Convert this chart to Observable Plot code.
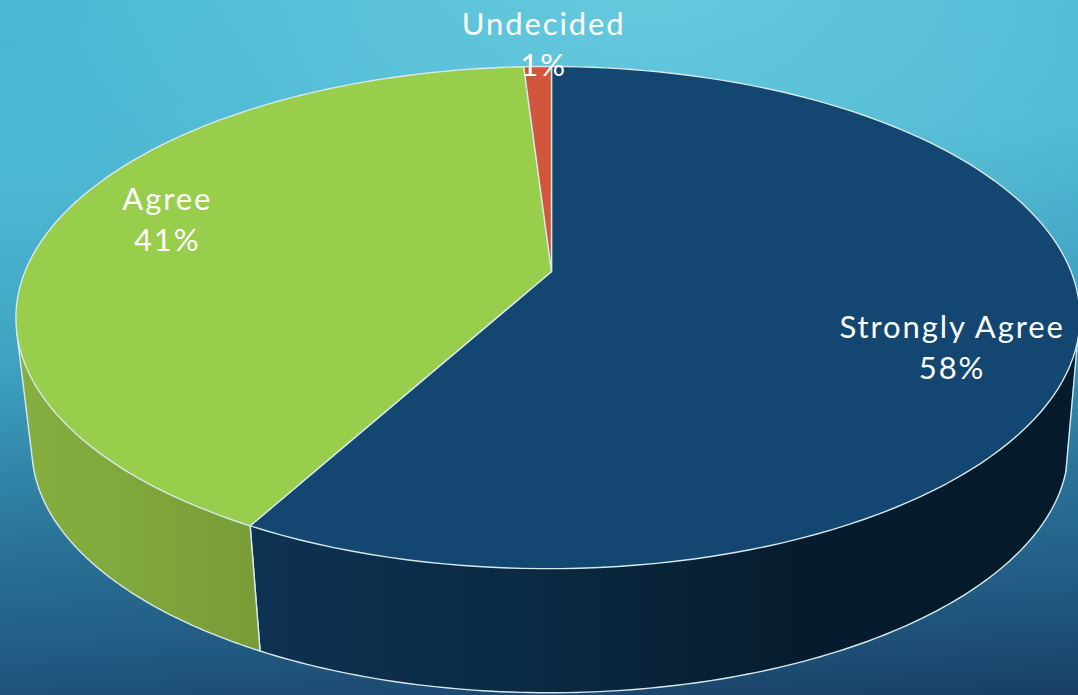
<!DOCTYPE html>
<html>
<head>
<meta charset="utf-8">
<script src="https://cdn.jsdelivr.net/npm/d3@7"></script>
<script src="https://cdn.jsdelivr.net/npm/@observablehq/plot@0.6"></script>
<style>
  html, body { margin: 0; padding: 0; width: 1078px; height: 695px; overflow: hidden; }
  #chart {
    width: 1078px; height: 695px;
    background:
      radial-gradient(ellipse 640px 430px at 60% -6%, rgba(112,208,226,.75), rgba(112,208,226,0) 100%),
      linear-gradient(176deg, #4ab8d3 0%, #4db7d2 25%, #3ea3c2 47%, #2b7499 70%, #215a82 86%, #193e66 100%);
  }
  #chart text { letter-spacing: 1.9px; }
</style>
</head>
<body>
<div id="chart"></div>
<script>
// Survey responses, clockwise from twelve o'clock
const categories = ["Strongly Agree", "Agree", "Undecided"];
const shares = [58, 41, 1];
const topColors = ["#134670", "#99cd4c", "#d2563c"];
const wallStops = [
  ["#0e3252", "#0b2a43", "#061c2e", "#051a2b"],
  ["#87ae40", "#80a73b", "#789c37"],
  ["#a8432e", "#a8432e"]
];

// Perspective of the tilted disc, in units of its horizontal radius
const tilt = 0.1834, skew = 0.0066, squash = 0.464;
const depthScale = 0.974, depthDrop = 0.252, depthShift = 0.004;
const visibleArc = [106, 256]; // degrees of rim whose wall faces the viewer

function project(deg, r = 1, lower = false) {
  const t = deg * Math.PI / 180;
  const u = r * Math.sin(t), v = r * Math.cos(t);
  const den = 1 + tilt * v + skew * u;
  const x = u / den, y = squash * v / den;
  return lower ? [x * depthScale + depthShift, y * depthScale - depthDrop] : [x, y];
}

const total = d3.sum(shares);
let running = 0;
const slices = categories.map((name, i) => {
  const start = running / total * 360;
  running += shares[i];
  return { name, i, share: shares[i], start, end: running / total * 360 };
});

const arcAngles = (a, b) => d3.range(0, 121).map(k => a + (b - a) * k / 120);

// Top face outline: centre, then around the slice's rim
const topFaces = slices.flatMap(s =>
  [null, ...arcAngles(s.start, s.end), null].map(d => {
    const [x, y] = d === null ? [0, 0] : project(d);
    return { name: s.name, x, y };
  })
);

// Wall strip under each slice, limited to the part facing the viewer
const walls = slices.flatMap(s => {
  const a = Math.max(s.start, visibleArc[0]), b = Math.min(s.end, visibleArc[1]);
  if (a >= b) return [];
  return [{ slice: s, rows: arcAngles(a, b).map(d => {
    const [x1, y1] = project(d), [x2, y2] = project(d, 1, true);
    return { x1, y1, x2, y2 };
  }), a, b }];
});

const gradientDefs = () => {
  const defs = d3.create("svg:defs");
  walls.forEach(w => {
    const g = defs.append("linearGradient").attr("id", `wall-${w.slice.i}`);
    const stops = wallStops[w.slice.i];
    stops.forEach((c, k) => g.append("stop")
      .attr("offset", k / (stops.length - 1)).attr("stop-color", c));
  });
  return defs.node();
};

const rimStroke = "#d5e8ea";
const seam = (pts) => Plot.line(pts, { x: "0", y: "1", stroke: rimStroke, strokeWidth: 1.4 });

// Label anchors follow each slice's middle angle
const labelReach = [0.78, 0.76, 1.0];
const labelShift = [[-7, 25], [-6, -15], [6, -24.5]];
const labels = slices.map(s => {
  const [x, y] = project((s.start + s.end) / 2, labelReach[s.i]);
  return { x, y, dx: labelShift[s.i][0], dy: labelShift[s.i][1], text: `${s.name}\n${s.share}%` };
});

const marks = [gradientDefs];
walls.forEach(w => {
  marks.push(Plot.area(w.rows, { x1: "x1", y1: "y1", x2: "x2", y2: "y2", fill: `url(#wall-${w.slice.i})` }));
  marks.push(seam(arcAngles(w.a, w.b).map(d => project(d, 1, true))));
  marks.push(seam([project(w.a), project(w.a, 1, true)]));
  marks.push(seam([project(w.b), project(w.b, 1, true)]));
});
slices.forEach(s => {
  marks.push(Plot.line(topFaces.filter(d => d.name === s.name), {
    x: "x", y: "y", fill: topColors[s.i], stroke: rimStroke, strokeWidth: 1.4, strokeLinejoin: "round"
  }));
});
labels.forEach(l => {
  marks.push(Plot.text([l], {
    x: "x", y: "y", text: "text", dx: l.dx, dy: l.dy, fill: "white",
    fontSize: 31, lineHeight: 1.32, lineAnchor: "middle", textAnchor: "middle"
  }));
});

const chart = Plot.plot({
  width: 1078, height: 695,
  margin: 0,
  x: { domain: [-551 / 523, 527 / 523], range: [0, 1078], axis: null },
  y: { domain: [-424 / 523, 271 / 523], range: [695, 0], axis: null },
  style: { background: "transparent", fontFamily: "Lato, 'Noto Sans', sans-serif", overflow: "hidden" },
  marks
});
document.getElementById("chart").append(chart);
</script>
</body>
</html>
